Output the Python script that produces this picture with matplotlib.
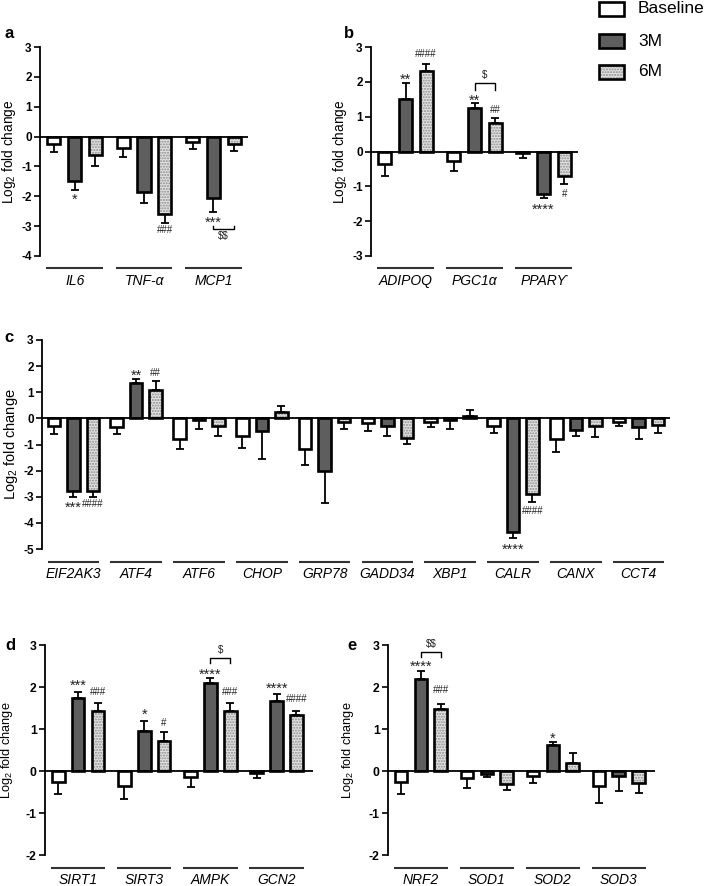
import numpy as np
import matplotlib
matplotlib.use('Agg')
import matplotlib.pyplot as plt
from matplotlib.patches import Rectangle
from matplotlib.transforms import ScaledTranslation

plt.rcParams['font.family'] = ['Liberation Sans', 'DejaVu Sans']
plt.rcParams['axes.unicode_minus'] = False
plt.rcParams['mathtext.fontset'] = 'custom'
plt.rcParams['mathtext.rm'] = 'Liberation Sans'
plt.rcParams['mathtext.it'] = 'Liberation Sans:italic'
plt.rcParams['mathtext.bf'] = 'Liberation Sans:bold'
plt.rcParams['mathtext.default'] = 'regular'
plt.rcParams['hatch.linewidth'] = 1.0

series_names = ['Baseline', '3M', '6M']

# ---------------- Panel a ----------------
a_genes = ['IL6', 'TNF-α', 'MCP1']
a_base = [-0.24, -0.37, -0.18]
a_base_err = [0.29, 0.33, 0.24]
a_3m = [-1.49, -1.86, -2.07]
a_3m_err = [0.29, 0.37, 0.46]
a_6m = [-0.61, -2.61, -0.26]
a_6m_err = [0.38, 0.27, 0.21]

# ---------------- Panel b ----------------
b_genes = ['ADIPOQ', 'PGC1α', 'PPARϒ']
b_base = [-0.37, -0.26, -0.05]
b_base_err = [0.33, 0.30, 0.15]
b_3m = [1.52, 1.25, -1.21]
b_3m_err = [0.46, 0.14, 0.13]
b_6m = [2.32, 0.83, -0.70]
b_6m_err = [0.18, 0.13, 0.24]

# ---------------- Panel c ----------------
c_genes = ['EIF2AK3', 'ATF4', 'ATF6', 'CHOP', 'GRP78', 'GADD34', 'XBP1', 'CALR', 'CANX', 'CCT4']
c_base = [-0.28, -0.32, -0.78, -0.67, -1.16, -0.19, -0.13, -0.28, -0.79, -0.13]
c_base_err = [0.33, 0.28, 0.38, 0.48, 0.61, 0.28, 0.21, 0.28, 0.49, 0.16]
c_3m = [-2.77, 1.37, -0.05, -0.50, -2.01, -0.28, -0.05, -4.35, -0.45, -0.33]
c_3m_err = [0.23, 0.13, 0.37, 1.04, 1.23, 0.38, 0.36, 0.22, 0.21, 0.47]
c_6m = [-2.77, 1.07, -0.28, 0.23, -0.15, -0.75, 0.08, -2.88, -0.31, -0.27]
c_6m_err = [0.23, 0.35, 0.38, 0.24, 0.26, 0.24, 0.23, 0.34, 0.39, 0.29]

# ---------------- Panel d ----------------
d_genes = ['SIRT1', 'SIRT3', 'AMPK', 'GCN2']
d_base = [-0.27, -0.36, -0.14, -0.05]
d_base_err = [0.28, 0.31, 0.23, 0.12]
d_3m = [1.73, 0.95, 2.09, 1.67]
d_3m_err = [0.14, 0.25, 0.12, 0.17]
d_6m = [1.43, 0.71, 1.42, 1.34]
d_6m_err = [0.20, 0.21, 0.21, 0.10]

# ---------------- Panel e ----------------
e_genes = ['NRF2', 'SOD1', 'SOD2', 'SOD3']
e_base = [-0.27, -0.17, -0.11, -0.35]
e_base_err = [0.28, 0.23, 0.18, 0.40]
e_3m = [2.20, -0.07, 0.62, -0.13]
e_3m_err = [0.17, 0.08, 0.07, 0.35]
e_6m = [1.47, -0.32, 0.18, -0.29]
e_6m_err = [0.13, 0.13, 0.25, 0.23]

# significance marks: (gene index, series index, y, text)
a_marks = [(0, 1, -1.97, '*'), (1, 2, -3.11, '###'), (2, 1, -2.74, '***')]
b_marks = [(0, 1, 2.19, '**'), (0, 2, 2.82, '####'), (1, 1, 1.59, '**'),
           (1, 2, 1.22, '##'), (2, 1, -1.54, '****'), (2, 2, -1.20, '#')]
c_marks = [(0, 1, -3.27, '***'), (0, 2, -3.27, '####'), (1, 1, 1.79, '**'),
           (1, 2, 1.74, '##'), (7, 2, -3.54, '####'), (7, 1, -4.86, '****')]
d_marks = [(0, 1, 2.13, '***'), (0, 2, 1.89, '###'), (1, 1, 1.45, '*'), (1, 2, 1.15, '#'),
           (2, 1, 2.40, '****'), (2, 2, 1.89, '###'), (3, 1, 2.06, '****'), (3, 2, 1.73, '####')]
e_marks = [(0, 1, 2.58, '****'), (0, 2, 1.94, '###'), (2, 1, 0.88, '*')]

# brackets 3M vs 6M: (gene index, y of bar, y of tips, text, text y)
a_brackets = [(2, -3.11, -3.0, r'\$\$', -3.30)]
b_brackets = [(1, 1.97, 1.77, r'\$', 2.22)]
d_brackets = [(2, 2.70, 2.58, r'\$', 2.88)]
e_brackets = [(0, 2.83, 2.71, r'\$\$', 3.04)]

FIG_W, FIG_H = 709, 886
fig = plt.figure(figsize=(FIG_W / 100, FIG_H / 100), dpi=100)

FILL_3M = '#5e5e5e'
FILL_6M = '#e2e2e2'
DOT_6M = '#8c8c8c'


def make_axes(l, t, r, b):
    return fig.add_axes([l / FIG_W, 1 - b / FIG_H, (r - l) / FIG_W, (b - t) / FIG_H])


def draw_panel(ax, genes, means, errs, ylim, xlim, offset, width, tick_fs, ylab_fs,
               ylab_off_px, marks, brackets, letter, letter_xy):
    n = len(genes)
    x = np.arange(n)
    for s in range(3):
        xs = x + (s - 1) * offset
        m = np.array(means[s])
        e = np.array(errs[s])
        lower = np.where(m < 0, e, 0)
        upper = np.where(m >= 0, e, 0)
        ax.errorbar(xs, m, yerr=[lower, upper], fmt='none', ecolor='black',
                    elinewidth=1.3, capsize=3, capthick=1.3, zorder=2)
        if s == 0:
            ax.bar(xs, m, width, facecolor='white', edgecolor='black', linewidth=1.9, zorder=3)
        elif s == 1:
            ax.bar(xs, m, width, facecolor=FILL_3M, edgecolor='black', linewidth=1.9, zorder=3)
        else:
            ax.bar(xs, m, width, facecolor=FILL_6M, edgecolor=DOT_6M, hatch='......',
                   linewidth=0, zorder=3)
            ax.bar(xs, m, width, facecolor='none', edgecolor='black', linewidth=1.9, zorder=4)
    ax.axhline(0, color='black', lw=1.3, zorder=5)
    ax.set_xlim(*xlim)
    ax.set_ylim(*ylim)
    ax.set_yticks(np.arange(ylim[0], ylim[1] + 1))
    ax.set_xticks([])
    for sp in ['top', 'right', 'bottom']:
        ax.spines[sp].set_visible(False)
    ax.spines['left'].set_linewidth(1.3)
    ax.tick_params(axis='y', length=4, width=1.2, pad=2, labelsize=tick_fs)
    for lbl in ax.get_yticklabels():
        lbl.set_fontweight('bold')
    ax.patch.set_alpha(0)

    # group underlines and gene names
    line_tr = ax.get_xaxis_transform() + ScaledTranslation(0, -9 / 72, fig.dpi_scale_trans)
    text_tr = ax.get_xaxis_transform() + ScaledTranslation(0, -18 / 72, fig.dpi_scale_trans)
    for i, g in enumerate(genes):
        ax.plot([i - 0.41, i + 0.41], [0, 0], transform=line_tr, color='#333333',
                lw=1.5, clip_on=False, solid_capstyle='butt')
        ax.text(i, 0, g, transform=text_tr, ha='center', va='center', style='italic',
                fontsize=10)

    # y label
    bbox = ax.get_position()
    ax_w_px = bbox.width * FIG_W
    ax.set_ylabel('Log$_2$ fold change', fontsize=ylab_fs)
    ax.yaxis.set_label_coords(-ylab_off_px / ax_w_px, 0.5)

    # significance marks
    for gi, si, y, txt in marks:
        xx = gi + (si - 1) * offset
        is_star = '*' in txt
        fs = 10.5 if is_star else 7
        k = 0.58 if is_star else 0.36
        ax.annotate(txt, xy=(xx, y), xytext=(0, -k * fs), textcoords='offset points',
                    ha='center', va='baseline', fontsize=fs, color='#222222',
                    annotation_clip=False)
    for gi, yb, yt, txt, ty in brackets:
        x0 = gi
        x1 = gi + offset
        ax.plot([x0, x0, x1, x1], [yt, yb, yb, yt], color='black', lw=1.0, clip_on=False)
        ax.annotate(txt, xy=((x0 + x1) / 2, ty), xytext=(0, -0.35 * 7), textcoords='offset points',
                    ha='center', va='baseline', fontsize=7, color='#222222',
                    annotation_clip=False)

    fig.text(letter_xy[0] / FIG_W, 1 - letter_xy[1] / FIG_H, letter, fontsize=12,
             fontweight='bold', ha='center', va='center')


ax_a = make_axes(40, 47, 248, 256)
draw_panel(ax_a, a_genes, [a_base, a_3m, a_6m], [a_base_err, a_3m_err, a_6m_err],
           (-4, 3), (-0.5, 2.5), 0.30, 0.19, 8.5, 9.8, 22, a_marks, a_brackets, 'a', (9, 33))

ax_b = make_axes(371, 47, 578, 256)
draw_panel(ax_b, b_genes, [b_base, b_3m, b_6m], [b_base_err, b_3m_err, b_6m_err],
           (-3, 3), (-0.5, 2.5), 0.30, 0.19, 8.5, 9.8, 22, b_marks, b_brackets, 'b', (349, 33))

ax_c = make_axes(42, 340, 670, 549)
draw_panel(ax_c, c_genes, [c_base, c_3m, c_6m], [c_base_err, c_3m_err, c_6m_err],
           (-5, 3), (-0.5, 9.5), 0.31, 0.20, 8.5, 10.5, 22, c_marks, [], 'c', (9, 338))

ax_d = make_axes(45, 645, 313, 855)
draw_panel(ax_d, d_genes, [d_base, d_3m, d_6m], [d_base_err, d_3m_err, d_6m_err],
           (-2, 3), (-0.5, 3.55), 0.30, 0.19, 8.8, 9.2, 30, d_marks, d_brackets, 'd', (10, 646))

ax_e = make_axes(388, 645, 655, 855)
draw_panel(ax_e, e_genes, [e_base, e_3m, e_6m], [e_base_err, e_3m_err, e_6m_err],
           (-2, 3), (-0.5, 3.55), 0.30, 0.19, 8.8, 9.2, 32, e_marks, e_brackets, 'e', (352, 646))

# legend (figure pixel coordinates)
leg_y = [8.5, 41, 72]
leg_fill = ['white', FILL_3M, FILL_6M]
for i, name in enumerate(series_names):
    x0, w, h = 599, 25, 14
    y0 = leg_y[i] + h / 2
    rect_xy = (x0 / FIG_W, 1 - y0 / FIG_H)
    if i == 2:
        fig.add_artist(Rectangle(rect_xy, w / FIG_W, h / FIG_H, transform=fig.transFigure,
                                 facecolor=FILL_6M, edgecolor=DOT_6M, hatch='......', linewidth=0))
        fig.add_artist(Rectangle(rect_xy, w / FIG_W, h / FIG_H, transform=fig.transFigure,
                                 facecolor='none', edgecolor='black', linewidth=1.9))
    else:
        fig.add_artist(Rectangle(rect_xy, w / FIG_W, h / FIG_H, transform=fig.transFigure,
                                 facecolor=leg_fill[i], edgecolor='black', linewidth=1.9))
    fig.text(638 / FIG_W, 1 - leg_y[i] / FIG_H, name, fontsize=12.5, ha='left', va='center')

fig.savefig('out.png', dpi=100)
